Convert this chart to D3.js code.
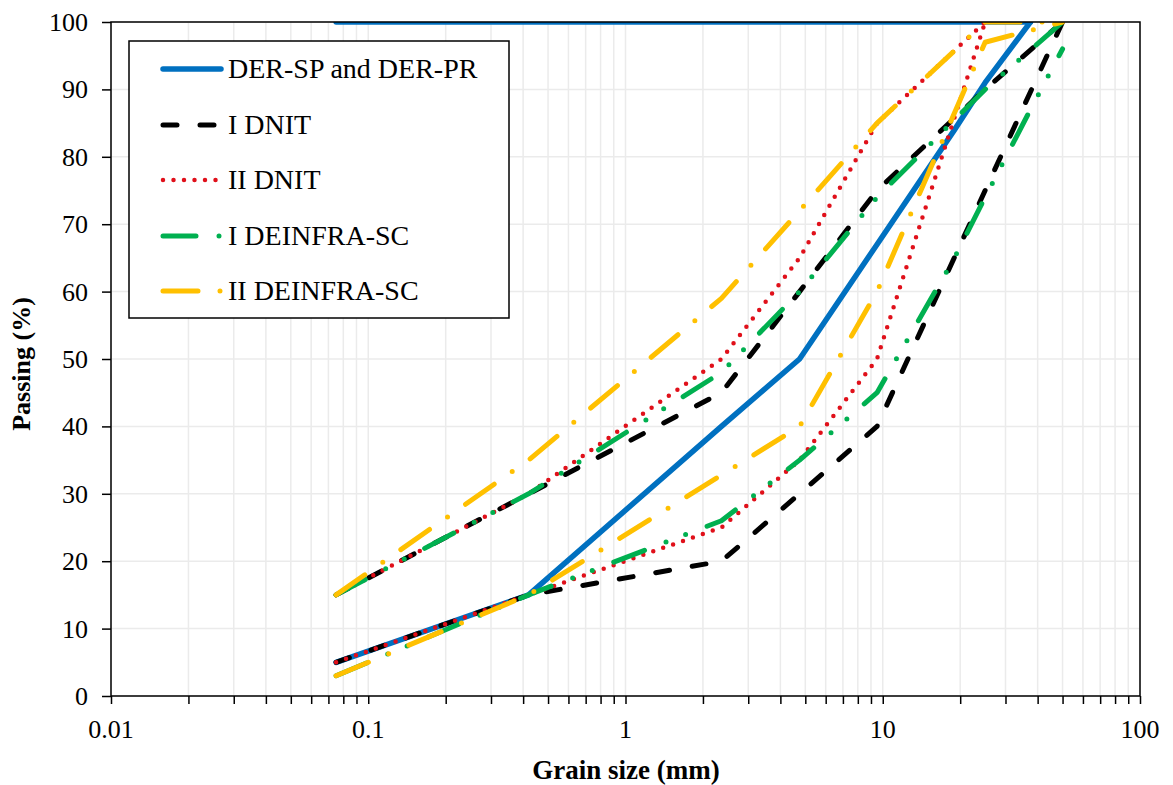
<!DOCTYPE html>
<html>
<head>
<meta charset="utf-8">
<script src="https://cdn.jsdelivr.net/npm/d3@7"></script>
<style>
  body { margin: 0; background: #fff; }
  svg text { font-family: 'Liberation Serif', Tinos, 'Times New Roman', 'Nimbus Roman', 'DejaVu Serif', serif; }
</style>
</head>
<body>
<svg id="chart" width="1173" height="785"></svg>
<script>
// sieve openings (mm)
const sieves = [0.075, 0.42, 2.36, 4.75, 9.5, 19, 25, 37.5, 50];

// passing (%) per sieve, null where the band has no point
const derLower    = [5, 15, 40, 50, 67, 84, 91, 100, null];
const derUpper    = [100, 100, 100, 100, 100, 100, 100, 100, null];
const dnit1Lower  = [5, 15, 20, 30, 40, null, 75, null, 100];
const dnit1Upper  = [15, 30, 45, 60, 75, null, 90, null, 100];
const dnit2Lower  = [5, 15, 25, 35, 50, null, 100, null, null];
const dnit2Upper  = [15, 30, 50, 65, 85, null, 100, null, null];
const deinf1Lower = [3, 15, 26, 35, 45, 65, 74, 87, 96];
const deinf1Upper = [15, 30, 48, 60, 74, null, 90, null, 100];
const deinf2Lower = [3, 15, null, 40, 60, null, 97, null, 100];
const deinf2Upper = [15, 35, 59, 72, 85, null, 100, null, 100];

const xLabels = [0.01, 0.1, 1, 10, 100];
const yTicks = [0, 10, 20, 30, 40, 50, 60, 70, 80, 90, 100];

const series = [
  {name: 'DER-SP and DER-PR', bands: [derUpper, derLower], color: '#0070C0', width: 5.5, dash: null, cap: 'round'},
  {name: 'I DNIT', bands: [dnit1Lower, dnit1Upper], color: '#000000', width: 5, dash: '14,23', cap: 'round'},
  {name: 'II DNIT', bands: [dnit2Lower, dnit2Upper], color: '#E0101A', width: 4.5, dash: '0,10.5', cap: 'round'},
  {name: 'I DEINFRA-SC', bands: [deinf1Lower, deinf1Upper], color: '#00B050', width: 5, dash: '33,23,0,21,0,23', cap: 'round'},
  {name: 'II DEINFRA-SC', bands: [deinf2Lower, deinf2Upper], color: '#FFC000', width: 5, dash: '35,22,0,22', cap: 'round'}
];

const plot = {left: 111, right: 1140, top: 22, bottom: 696};
const svg = d3.select('#chart');

const x = d3.scaleLog().domain([0.01, 100]).range([plot.left, plot.right]);
const y = d3.scaleLinear().domain([0, 100]).range([plot.bottom, plot.top]);

// grid
let grid = svg.append('g').attr('class', 'grid');
grid.selectAll('line.v')
  .data(x.ticks())
  .enter().append('line')
  .attr('x1', d => x(d)).attr('x2', d => x(d))
  .attr('y1', plot.top).attr('y2', plot.bottom)
  .attr('stroke', '#ebebeb').attr('stroke-width', 1.5);
grid.selectAll('line.h')
  .data(yTicks)
  .enter().append('line')
  .attr('x1', plot.left).attr('x2', plot.right)
  .attr('y1', d => y(d)).attr('y2', d => y(d))
  .attr('stroke', '#ebebeb').attr('stroke-width', 1.5);

// axes
svg.append('g')
  .attr('transform', 'translate(0,' + plot.bottom + ')')
  .call(d3.axisBottom(x).tickValues(x.ticks()).tickSize(8).tickFormat(''))
  .call(g => g.select('.domain').remove())
  .call(g => g.selectAll('line').attr('stroke', '#000').attr('stroke-width', 1.5));
svg.append('g')
  .attr('transform', 'translate(' + plot.left + ',0)')
  .call(d3.axisLeft(y).tickValues(yTicks).tickSize(9).tickFormat(''))
  .call(g => g.select('.domain').remove())
  .call(g => g.selectAll('line').attr('stroke', '#000').attr('stroke-width', 1.5));

svg.selectAll('text.xl')
  .data(xLabels)
  .enter().append('text')
  .attr('x', d => x(d)).attr('y', 738)
  .attr('text-anchor', 'middle')
  .attr('font-size', 26)
  .text(d => String(d));
svg.selectAll('text.yl')
  .data(yTicks)
  .enter().append('text')
  .attr('x', 88).attr('y', d => y(d) + 9)
  .attr('text-anchor', 'end')
  .attr('font-size', 26)
  .text(d => d);

// data lines
svg.append('clipPath').attr('id', 'clip')
  .append('rect')
  .attr('x', plot.left).attr('y', plot.top)
  .attr('width', plot.right - plot.left).attr('height', plot.bottom - plot.top);

const line = d3.line()
  .defined(d => d[1] != null)
  .x(d => x(d[0]))
  .y(d => y(d[1]));

let lines = svg.append('g').attr('clip-path', 'url(#clip)');
series.forEach(s => {
  s.bands.forEach(vals => {
    let pts = sieves.map((v, i) => [v, vals[i]]).filter(d => d[1] != null);
    lines.append('path')
      .datum(pts)
      .attr('d', line)
      .attr('fill', 'none')
      .attr('stroke', s.color)
      .attr('stroke-width', s.width)
      .attr('stroke-linecap', s.cap)
      .attr('stroke-linejoin', 'round')
      .attr('stroke-dasharray', s.dash);
  });
});

// frame
svg.append('rect')
  .attr('x', plot.left).attr('y', plot.top)
  .attr('width', plot.right - plot.left).attr('height', plot.bottom - plot.top)
  .attr('fill', 'none').attr('stroke', '#000').attr('stroke-width', 1.5);

// axis titles
svg.append('text')
  .attr('x', 626).attr('y', 779)
  .attr('text-anchor', 'middle')
  .attr('font-size', 27).attr('font-weight', 'bold')
  .text('Grain size (mm)');
svg.append('text')
  .attr('transform', 'translate(30,364) rotate(-90)')
  .attr('text-anchor', 'middle')
  .attr('font-size', 26).attr('font-weight', 'bold')
  .text('Passing (%)');

// legend
let legend_dim = {x: 129, y: 41, w: 380, h: 277, rowY: [69, 125, 180, 236, 291]};
let legend = svg.append('g').attr('class', 'legend');
legend.append('rect')
  .attr('x', legend_dim.x).attr('y', legend_dim.y)
  .attr('width', legend_dim.w).attr('height', legend_dim.h)
  .attr('fill', '#fff').attr('stroke', '#000').attr('stroke-width', 1.5);
series.forEach((s, idx) => {
  let ly = legend_dim.rowY[idx];
  legend.append('line')
    .attr('x1', 163).attr('x2', 221)
    .attr('y1', ly).attr('y2', ly)
    .attr('stroke', s.color)
    .attr('stroke-width', s.width)
    .attr('stroke-linecap', s.cap)
    .attr('stroke-dasharray', s.dash);
  legend.append('text')
    .attr('x', 228).attr('y', ly + 9)
    .attr('font-size', 28)
    .text(s.name);
});
</script>
</body>
</html>
